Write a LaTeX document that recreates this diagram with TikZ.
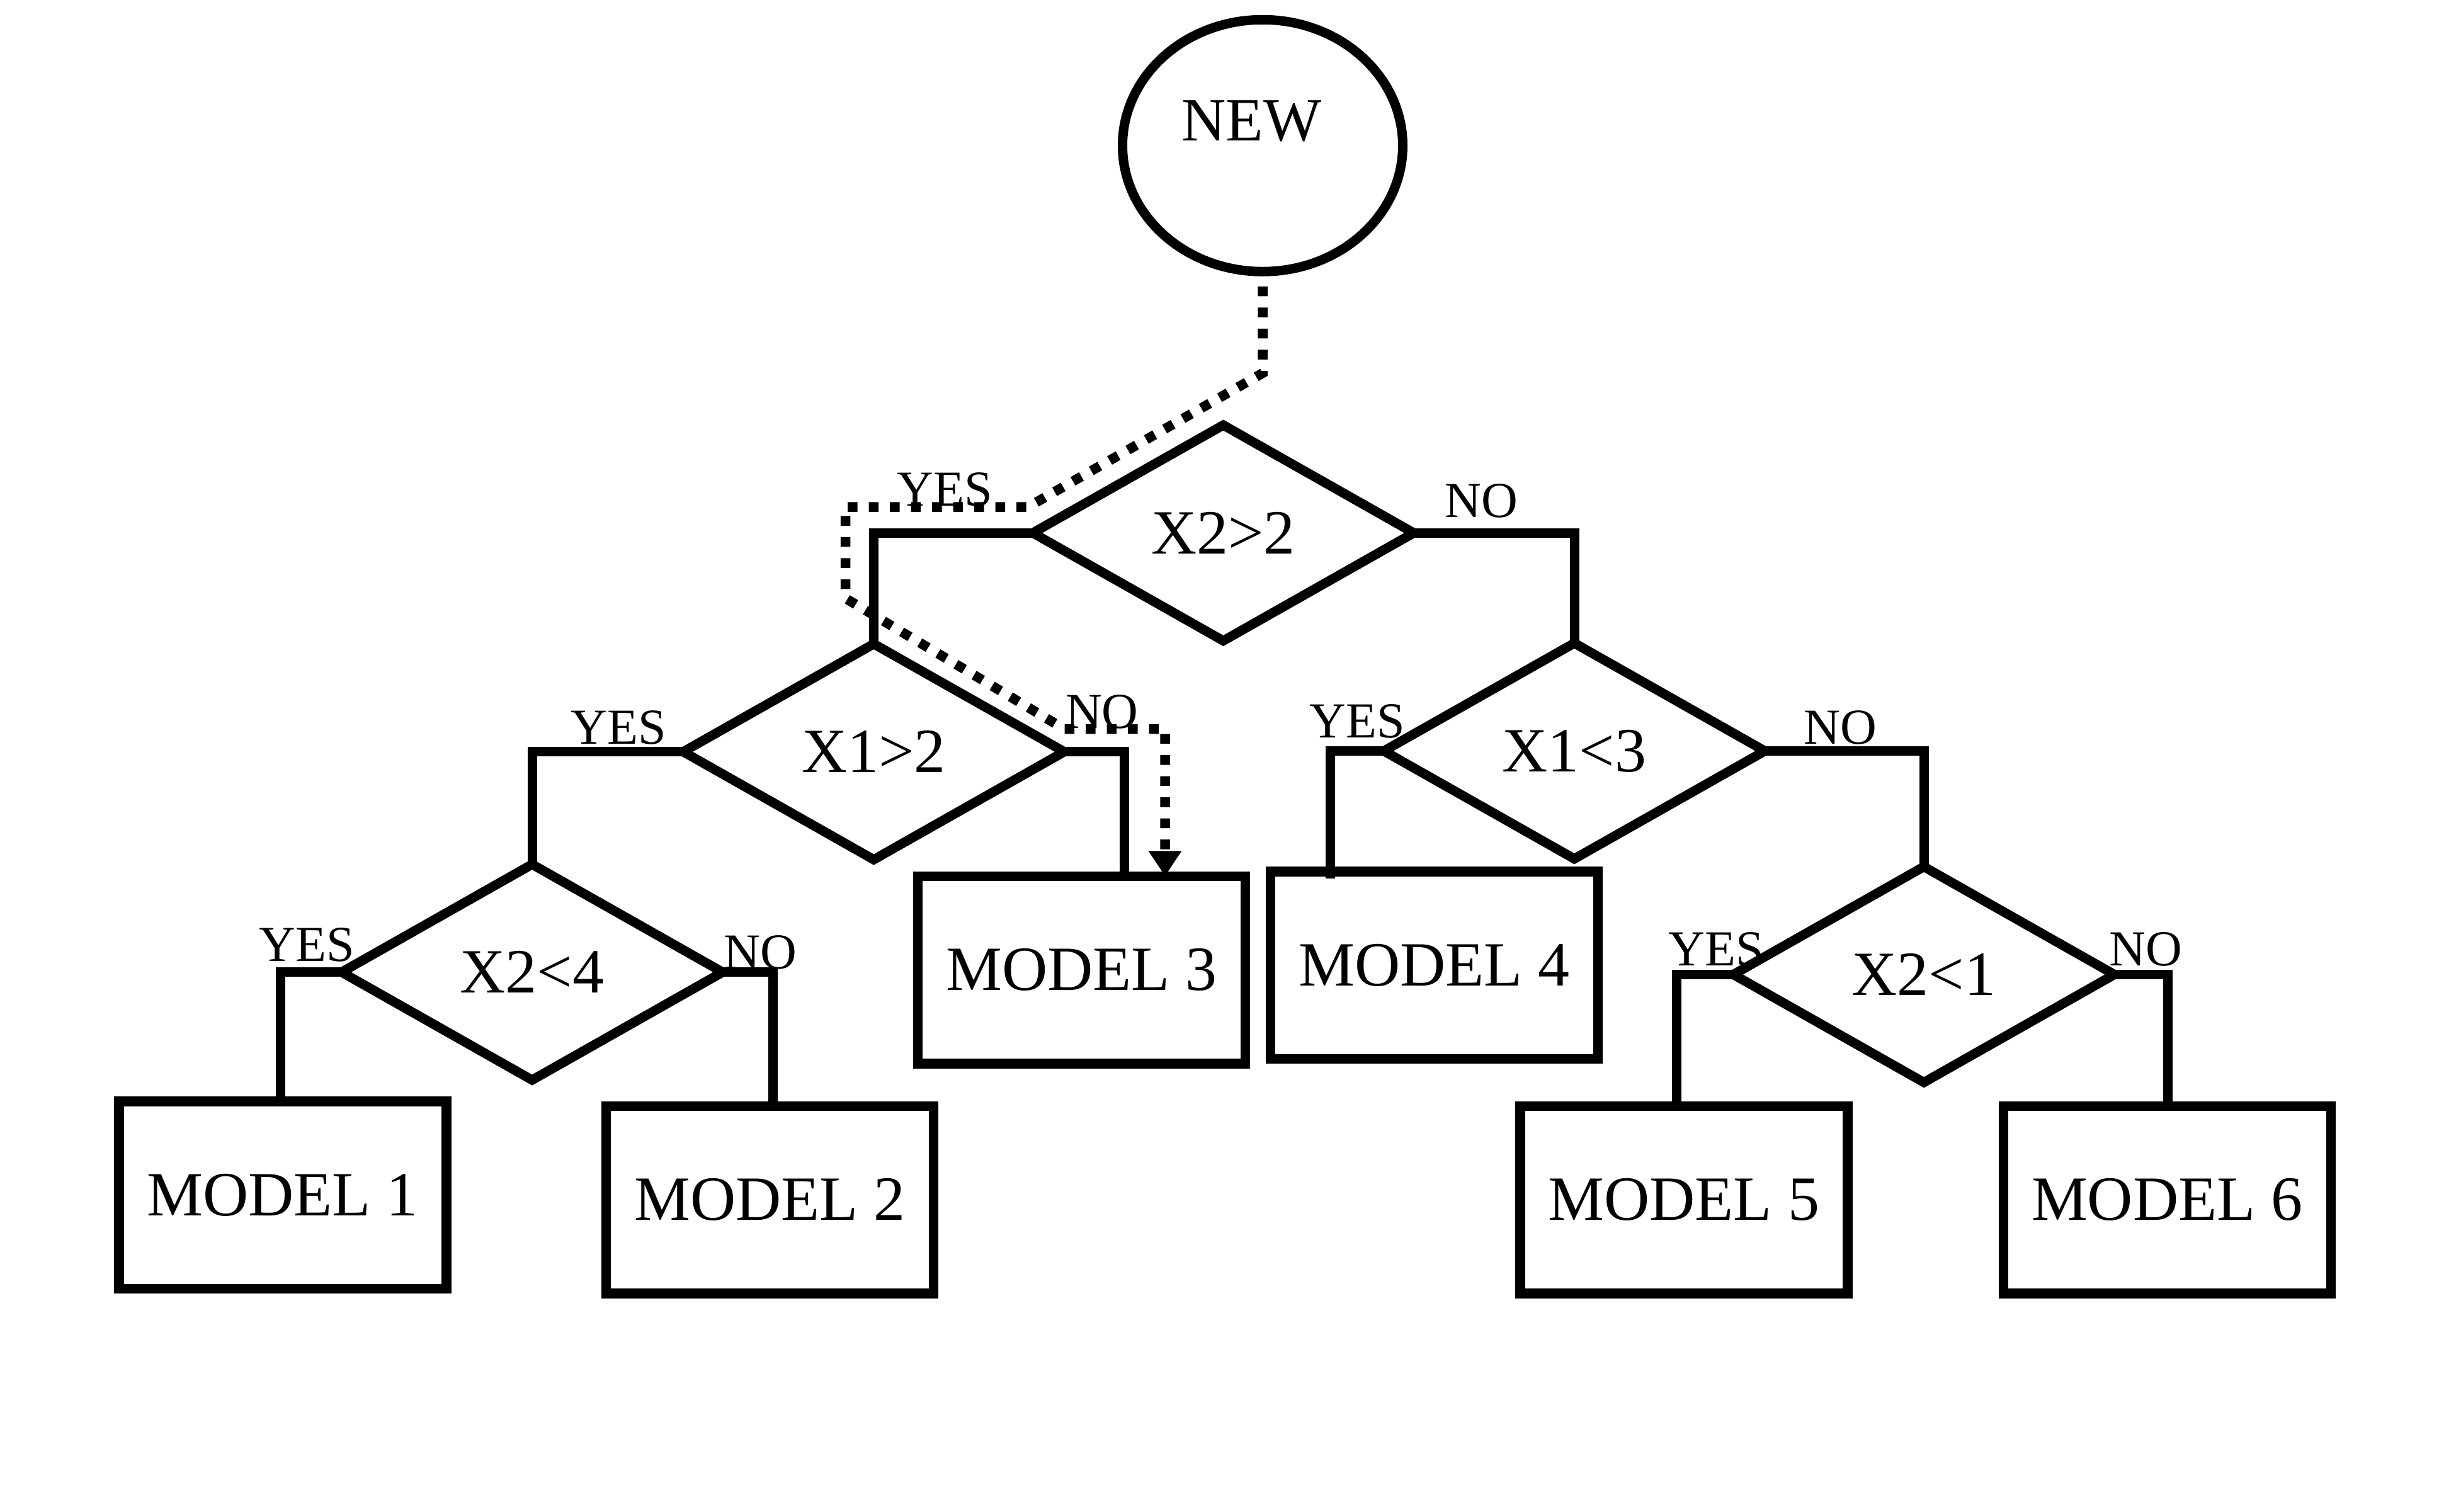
\documentclass[tikz,border=0pt]{standalone}
\usepackage{fontspec}
\setmainfont{Liberation Serif}
\usetikzlibrary{shapes.geometric,arrows.meta}
\begin{document}
\begin{tikzpicture}[x=0.5pt,y=-0.5pt,
  conn/.style={line width=3pt, line join=miter},
  dotpath/.style={line width=3.1pt, dash pattern=on 3.1pt off 3.6pt, dash phase=2pt},
  dec/.style={diamond, draw, line width=3pt, aspect=1.77, minimum width=121pt,
    minimum height=68.5pt, inner sep=0pt, outer sep=0pt,
    font=\fontsize{20}{24}\selectfont},
  model/.style={rectangle, draw, line width=3.1pt, minimum width=104pt,
    minimum height=59.5pt, inner sep=0pt, outer sep=0pt,
    font=\fontsize{20}{24}\selectfont},
  startc/.style={ellipse, draw, line width=3pt, minimum width=89pt,
    minimum height=80pt, inner sep=0pt, outer sep=0pt},
  txt/.style={inner sep=0pt, font=\fontsize{19.5}{23}\selectfont},
  lab/.style={inner sep=0pt, font=\fontsize{16}{19}\selectfont}]
\useasboundingbox (0,0) rectangle (1560,960);

% start
\node[startc] (new) at (802,92.5) {};
\node[txt] (newtxt) at (795,77) {NEW};

% decisions
\node[dec] (d1) at (777,338.5) {X2>2};
\node[dec] (d2) at (555,477.5) {X1>2};
\node[dec] (d3) at (1000,477) {X1<3};
\node[dec] (d4) at (338,617.5) {X2<4};
\node[dec] (d5) at (1222,619) {X2<1};

% models
\node[model] (m1) at (179.5,759) {MODEL 1};
\node[model] (m2) at (489,762) {MODEL 2};
\node[model] (m3) at (687,616) {MODEL 3};
\node[model] (m4) at (911,613) {MODEL 4};
\node[model] (m5) at (1069.5,762) {MODEL 5};
\node[model] (m6) at (1376.5,762) {MODEL 6};

% connectors
\draw[conn] (d1.west) -| (d2.north);
\draw[conn] (d1.east) -| (d3.north);
\draw[conn] (d2.west) -| (d4.north);
\coordinate (c3) at (714,556);
\draw[conn] (d2.east) -| (c3);
\coordinate (c4) at (845,558);
\draw[conn] (d3.west) -| (c4);
\draw[conn] (d3.east) -| (d5.north);
\coordinate (c1) at (178,699);
\draw[conn] (d4.west) -| (c1);
\coordinate (c2) at (491,703);
\draw[conn] (d4.east) -| (c2);
\coordinate (c5) at (1065,703);
\draw[conn] (d5.west) -| (c5);
\coordinate (c6) at (1377,703);
\draw[conn] (d5.east) -| (c6);

% highlighted path
\coordinate (b1) at (802,237);
\coordinate (b2) at (653,322);
\coordinate (b3) at (537,322);
\coordinate (b4) at (537,380);
\coordinate (b5) at (676,463);
\coordinate (b6) at (740,463);
\draw[dotpath, -{Triangle[length=8pt,width=10pt]}]
  (new.south) -- (b1) -- (b2) -- (b3) -- (b4) -- (b5) -- (b6) -- (b6 |- m3.north);

% labels
\node[lab] (y1) at (600,311) {YES};
\node[lab] (n1) at (941,318) {NO};
\node[lab] (y2) at (393,462) {YES};
\node[lab] (n2) at (700,452) {NO};
\node[lab] (y3) at (862,458) {YES};
\node[lab] (n3) at (1169,462) {NO};
\node[lab] (y4) at (195,600) {YES};
\node[lab] (n4) at (483,605) {NO};
\node[lab] (y5) at (1090,603) {YES};
\node[lab] (n5) at (1363,603) {NO};
\end{tikzpicture}
\end{document}
